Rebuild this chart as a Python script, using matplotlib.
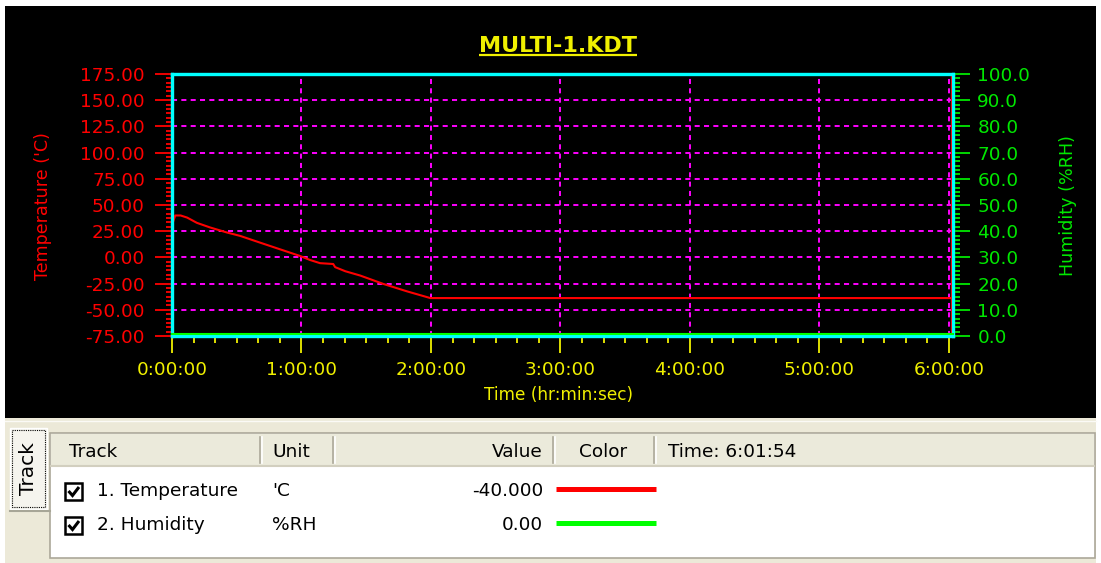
import matplotlib
matplotlib.use('Agg')
import matplotlib.pyplot as plt
import numpy as np
from matplotlib.patches import Rectangle
from matplotlib.ticker import MultipleLocator, AutoMinorLocator, FuncFormatter
from matplotlib import transforms

W, H = 1101, 563

# chart data
time_min = [0, 1.5, 4, 7, 11.5, 17.6, 25.4, 31.6, 40.8, 50.1, 59.4, 64, 68.6,
            74.7, 75.6, 80.3, 87.2, 97.9, 108.9, 119.7, 361.9]
temp_c = [31, 40, 40, 38, 33, 28.6, 23.8, 20.5, 14.1, 7.7, 1.3, -2.5, -5.5,
          -6.3, -9.3, -13.2, -17.3, -25.3, -32.4, -38.8, -38.8]
hum_time_min = [0, 361.9]
hum_rh = [0, 0]
end_min = 361.9          # 6:01:54
cursor_min = 361.2
temp_ticks = [-75, -50, -25, 0, 25, 50, 75, 100, 125, 150, 175]
hum_ticks = [0, 10, 20, 30, 40, 50, 60, 70, 80, 90, 100]
hour_ticks = [0, 1, 2, 3, 4, 5, 6]

header_labels = ["Track", "Unit", "Value", "Color", "Time: 6:01:54"]
row_names = ["1. Temperature", "2. Humidity"]
row_units = ["'C", "%RH"]
row_values = ["-40.000", "0.00"]
row_colors = ["#ff0000", "#00ff00"]

YEL = '#f0f000'
RED = '#ff0000'
GRN = '#00e800'
CYAN = '#00ffff'
MAG = '#ff00ff'

fig = plt.figure(figsize=(W / 100, H / 100), dpi=100, facecolor='white')

# background canvas in pixel coordinates
bg = fig.add_axes([0, 0, 1, 1], zorder=0)
bg.set_xlim(0, W)
bg.set_ylim(H, 0)
bg.axis('off')
bg.add_patch(Rectangle((5, 6), 1091, 412, facecolor='black', edgecolor='none'))
bg.add_patch(Rectangle((5, 418), 1091, 145, facecolor='#ece9d8', edgecolor='none'))
bg.plot([5, 1096], [421, 421], color='#fbfaf6', lw=1)

# main plot
ax = fig.add_axes([172 / W, 1 - 336 / H, 781 / W, 262 / H], zorder=1)
ax.set_facecolor('black')
ax.set_xlim(0, end_min / 60)
ax.set_ylim(-75, 175)
ax.set_xticks(hour_ticks)
ax.set_yticks(temp_ticks)
ax.xaxis.set_minor_locator(MultipleLocator(1 / 6))
ax.yaxis.set_minor_locator(AutoMinorLocator(6))

def hms(v, pos):
    s = int(round(v * 3600))
    return "%d:%02d:%02d" % (s // 3600, (s // 60) % 60, s % 60)

ax.xaxis.set_major_formatter(FuncFormatter(hms))
ax.yaxis.set_major_formatter(FuncFormatter(lambda v, p: "%.2f" % v))

ax.tick_params(axis='x', which='major', direction='out', length=12.5, width=1.3,
               color=YEL, labelcolor=YEL, labelsize=13.3, pad=5.5)
ax.tick_params(axis='x', which='minor', direction='out', length=5, width=1.3, color=YEL)
ax.tick_params(axis='y', which='major', direction='out', length=12.5, width=1.3,
               color=RED, labelcolor=RED, labelsize=13.3, pad=7)
ax.tick_params(axis='y', which='minor', direction='out', length=4.5, width=1.3, color=RED)

ax.grid(True, which='major', color=MAG, linestyle=(0, (2.6, 2.2)), lw=1.4)

ax.plot(np.array(time_min) / 60, temp_c, color=RED, lw=1.5, zorder=3)
ax.axvline(cursor_min / 60, color=RED, lw=1, zorder=3)

ax2 = ax.twinx()
ax2.set_zorder(2)
ax2.patch.set_visible(False)
ax2.set_ylim(0, 100)
ax2.set_yticks(hum_ticks)
ax2.yaxis.set_minor_locator(AutoMinorLocator(6))
ax2.yaxis.set_major_formatter(FuncFormatter(lambda v, p: "%.1f" % v))
ax2.tick_params(axis='y', which='major', direction='out', length=12.5, width=1.3,
                color=GRN, labelcolor=GRN, labelsize=13.3, pad=5)
ax2.tick_params(axis='y', which='minor', direction='out', length=5, width=1.3, color=GRN)

for a in (ax, ax2):
    for sp in a.spines.values():
        sp.set_color(CYAN)
        sp.set_linewidth(2.3)

lift = transforms.offset_copy(ax2.transData, fig=fig, x=0, y=1.8, units='dots')
ax2.plot(np.array(hum_time_min) / 60, hum_rh, color='#00ff00', lw=1.5,
         transform=lift, clip_on=False, zorder=4)

# titles and axis labels
title = bg.text(558, 52, 'MULTI-1.KDT', color=YEL, fontsize=16, fontweight='bold',
                ha='center', va='baseline')
bg.text(43, 206, "Temperature ('C)", color=RED, fontsize=12.6, rotation=90,
        ha='center', va='center')
bg.text(1068, 206, "Humidity (%RH)", color=GRN, fontsize=12.6, rotation=90,
        ha='center', va='center')
bg.text(558, 395, "Time (hr:min:sec)", color=YEL, fontsize=12.2, ha='center', va='center')

fig.canvas.draw()
bb = title.get_window_extent(fig.canvas.get_renderer())
inv = bg.transData.inverted()
x0 = inv.transform((bb.x0, bb.y0))[0]
x1 = inv.transform((bb.x1, bb.y0))[0]
bg.plot([x0, x1], [55, 55], color=YEL, lw=1.6, solid_capstyle='butt')

# track tab
bg.add_patch(Rectangle((10, 428), 37, 81, facecolor='#f5f4ee', edgecolor='white', lw=1))
bg.add_patch(Rectangle((12, 430), 33, 77, facecolor='none', edgecolor='black',
                       lw=0.8, linestyle=(0, (1, 1))))
bg.plot([10, 50], [511, 511], color='#a7a697', lw=1.5)
bg.text(28, 469, "Track", fontsize=14.5, rotation=90, ha='center', va='center', color='black')

# list view
bg.add_patch(Rectangle((50, 433), 1045, 125, facecolor='white', edgecolor='#aca899', lw=1.2))
bg.add_patch(Rectangle((51, 434), 1043, 32, facecolor='#ebeadb', edgecolor='none'))
bg.plot([51, 1094], [466, 466], color='#d2cfbf', lw=1.5)
for sx in [260, 333, 553, 654]:
    bg.plot([sx, sx], [437, 463], color='#aca899', lw=1.2)
    bg.plot([sx + 2, sx + 2], [437, 463], color='white', lw=1.2)

fs = 13.3
bg.text(69, 452, header_labels[0], fontsize=fs, ha='left', va='center')
bg.text(272, 452, header_labels[1], fontsize=fs, ha='left', va='center')
bg.text(543, 452, header_labels[2], fontsize=fs, ha='right', va='center')
bg.text(603, 452, header_labels[3], fontsize=fs, ha='center', va='center')
bg.text(668, 452, header_labels[4], fontsize=fs, ha='left', va='center')

row_y = [491, 525]
for y, name, unit, val, col in zip(row_y, row_names, row_units, row_values, row_colors):
    bg.add_patch(Rectangle((65, y - 8), 17, 17, facecolor='white', edgecolor='black', lw=1.8))
    bg.plot([68.5, 72.5, 79], [y, y + 4.5, y - 4], color='black', lw=2.2,
            solid_capstyle='butt', solid_joinstyle='miter')
    bg.text(97, y, name, fontsize=fs, ha='left', va='center')
    bg.text(272, y, unit, fontsize=fs, ha='left', va='center')
    bg.text(543, y, val, fontsize=fs, ha='right', va='center')
    bg.plot([556, 656], [y - 2, y - 2], color=col, lw=3.6, solid_capstyle='butt')

fig.savefig('out.png', dpi=100, facecolor='white')
